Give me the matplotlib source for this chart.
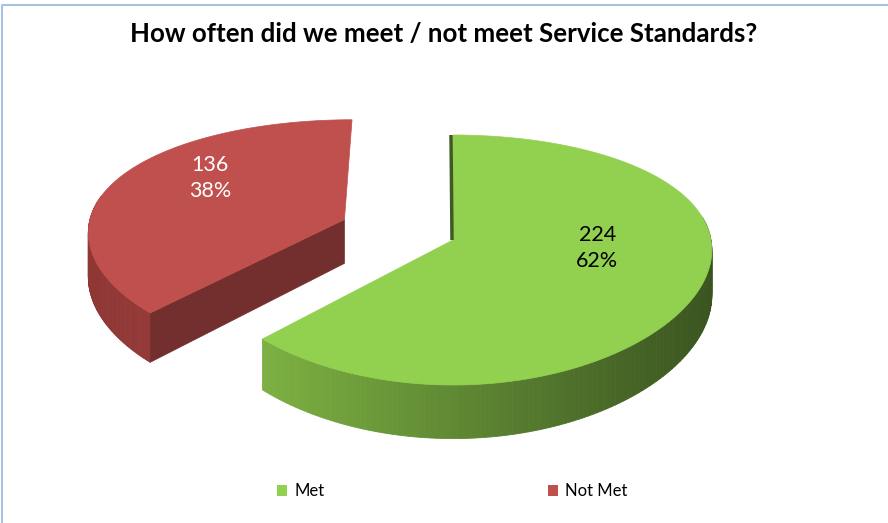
import numpy as np
import matplotlib.pyplot as plt
from matplotlib.patches import Polygon, Patch
from matplotlib.colors import to_rgb

# data
labels = ["Met", "Not Met"]
values = [224, 136]
top_colors = ["#92D050", "#C0504D"]
side_light = ["#7DB142", "#A8423F"]
side_dark = ["#3A5420", "#8E3735"]
cut_colors = ["#3F5A22", "#722F2E"]
explode = [0.0, 0.46]
title = "How often did we meet / not meet Service Standards?"

plt.rcParams['font.family'] = ['Lato', 'DejaVu Sans']

W, H = 888, 523
fig = plt.figure(figsize=(W / 100, H / 100), dpi=100)
ax = fig.add_axes([0, 0, 1, 1])
ax.set_xlim(0, W)
ax.set_ylim(H, 0)
ax.axis('off')

# pie geometry (pixels), simple perspective on a tilted disk
cx, cy = 453, 240
Rx, Ry = 258, 121.8
k = 0.16
depth = 45


def proj(u, v, z=0.0):
    w = 1 + k * v
    return cx + Rx * u / np.sqrt(w), cy - Ry * v / w + z * depth / w


total = sum(values)
start = 90.0
for i, val in enumerate(values):
    sweep = 360.0 * val / total
    a0, a1 = start, start - sweep
    mid = np.radians((a0 + a1) / 2)
    ou, ov = explode[i] * np.cos(mid), explode[i] * np.sin(mid)
    th = np.radians(np.linspace(a0, a1, 200))
    us, vs = ou + np.cos(th), ov + np.sin(th)

    # outer side band, shaded by screen x
    top = np.array([proj(u, v) for u, v in zip(us, vs)])
    bot = np.array([proj(u, v, 1) for u, v in zip(us, vs)])
    xmin, xmax = top[:, 0].min(), top[:, 0].max()
    c_l, c_d = np.array(to_rgb(side_light[i])), np.array(to_rgb(side_dark[i]))
    for j in range(len(th) - 1):
        if np.sin(th[j]) > 0.2:
            continue
        f = (top[j, 0] - xmin) / (xmax - xmin)
        if i == 1:
            f = 1 - f
        col = c_l + (c_d - c_l) * f
        quad = [top[j], top[j + 1], bot[j + 1], bot[j]]
        ax.add_patch(Polygon(quad, closed=True, fc=col, ec=col, lw=0.6))

    # radial cut face at the end angle (visible for the exploded slice)
    if i == 1:
        ra = np.radians(a0)
        face = [proj(ou, ov), proj(ou + np.cos(ra), ov + np.sin(ra)),
                proj(ou + np.cos(ra), ov + np.sin(ra), 1), proj(ou, ov, 1)]
        ax.add_patch(Polygon(face, closed=True, fc=cut_colors[i], ec=cut_colors[i], lw=0.5))

    # top face
    pts = [proj(ou, ov)] + list(top)
    ax.add_patch(Polygon(pts, closed=True, fc=top_colors[i], ec=top_colors[i], lw=0.5))

    if i == 0:
        ra = np.radians(a0)
        p0, p1 = proj(ou, ov), proj(ou + np.cos(ra), ov + np.sin(ra))
        ax.plot([p0[0] - 1, p1[0] - 2], [p0[1], p1[1]], color=cut_colors[0], lw=2.5,
                solid_capstyle='butt')

    # data label
    lx, ly = proj(ou + 0.6 * np.cos(mid), ov + 0.6 * np.sin(mid) + 0.16)
    ax.text(lx, ly, f"{val}\n{val / total:.0%}", ha='center', va='center',
            fontsize=15.5, linespacing=1.4,
            color='black' if i == 0 else 'white')
    start = a1

# chart border (top and left edges visible)
ax.plot([2, 2, W + 5], [H + 5, 4.5, 4.5], color='#A7C1E3', lw=1.5)

fig.text(0.5, 1 - 34 / H, title, ha='center', va='center',
         fontsize=18.6, fontweight='bold')

handles = [Patch(fc=c, ec='none') for c in top_colors]
fig.legend(handles, labels, loc='center', bbox_to_anchor=(452 / W, 1 - 491 / H),
           ncol=2, frameon=False, fontsize=12, handlelength=0.65, handleheight=0.65,
           handletextpad=0.4, columnspacing=13.4)

fig.savefig("out.png", dpi=100)
